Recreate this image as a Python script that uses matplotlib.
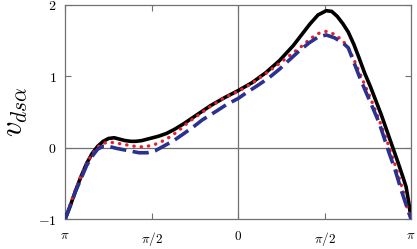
import numpy as np
import matplotlib.pyplot as plt

plt.rcParams["mathtext.fontset"] = "cm"
plt.rcParams["font.family"] = "serif"
plt.rcParams["font.serif"] = ["DejaVu Serif"]

# curva negra (continua)
x_k = [-3.14, -3.05, -2.95, -2.85, -2.75, -2.65, -2.55, -2.45, -2.35, -2.25,
       -2.15, -2.05, -1.95, -1.85, -1.75, -1.6, -1.45, -1.3, -1.15, -1.0,
       -0.75, -0.5, -0.25, 0.0, 0.25, 0.5, 0.75, 1.0, 1.15, 1.3, 1.45, 1.6,
       1.7, 1.8, 1.9, 2.0, 2.1, 2.2, 2.3, 2.4, 2.5, 2.6, 2.7, 2.8, 2.9, 3.0,
       3.05, 3.1, 3.14]
y_k = [-1.00, -0.82, -0.60, -0.40, -0.22, -0.08, 0.02, 0.09, 0.13, 0.14,
       0.12, 0.10, 0.09, 0.09, 0.10, 0.13, 0.16, 0.20, 0.26, 0.33,
       0.46, 0.59, 0.70, 0.80, 0.91, 1.05, 1.22, 1.43, 1.58, 1.73, 1.86, 1.92,
       1.91, 1.84, 1.74, 1.62, 1.45, 1.25, 1.04, 0.86, 0.66, 0.46, 0.24, 0.02,
       -0.20, -0.43, -0.55, -0.78, -1.00]

# curva roja (punteada)
x_r = [-3.14, -3.05, -2.95, -2.85, -2.75, -2.65, -2.55, -2.45, -2.35, -2.25,
       -2.1, -1.95, -1.8, -1.65, -1.5, -1.35, -1.2, -1.05, -0.9, -0.7, -0.5,
       -0.25, 0.0, 0.25, 0.5, 0.75, 1.0, 1.15, 1.3, 1.45, 1.6, 1.75, 1.9, 2.0,
       2.1, 2.2, 2.3, 2.4, 2.5, 2.6, 2.7, 2.8, 2.9, 3.0, 3.07, 3.14]
y_r = [-1.00, -0.80, -0.58, -0.39, -0.22, -0.09, 0.01, 0.06, 0.08, 0.07,
       0.05, 0.03, 0.01, 0.02, 0.05, 0.10, 0.17, 0.26, 0.36, 0.47, 0.58,
       0.70, 0.79, 0.90, 1.04, 1.18, 1.33, 1.42, 1.52, 1.60, 1.63, 1.59, 1.50,
       1.40, 1.24, 1.06, 0.88, 0.70, 0.51, 0.31, 0.10, -0.12, -0.36, -0.62,
       -0.85, -1.00]

# curva azul (discontinua)
x_b = [-3.14, -3.05, -2.95, -2.85, -2.75, -2.65, -2.55, -2.45, -2.35, -2.2,
       -2.0, -1.8, -1.65, -1.5, -1.31, -1.15, -1.0, -0.8, -0.65, -0.4, -0.22,
       0.0, 0.15, 0.35, 0.56, 0.75, 0.93, 1.1, 1.29, 1.45, 1.6, 1.75, 1.9, 2.0,
       2.1, 2.2, 2.32, 2.45, 2.56, 2.65, 2.74, 2.85, 2.96, 3.05, 3.14]
y_b = [-1.00, -0.82, -0.61, -0.43, -0.25, -0.12, -0.02, 0.02, 0.02, -0.01,
       -0.04, -0.07, -0.07, -0.04, 0.04, 0.11, 0.19, 0.30, 0.39, 0.51, 0.60,
       0.69, 0.77, 0.87, 0.98, 1.10, 1.23, 1.35, 1.47, 1.55, 1.58, 1.54, 1.47,
       1.40, 1.20, 1.00, 0.78, 0.55, 0.35, 0.14, -0.07, -0.31, -0.59, -0.80,
       -1.00]

xticks = [-np.pi, -np.pi / 2, 0, np.pi / 2, np.pi]
xtick_labels = [r"$\pi$", r"$\pi/2$", r"$0$", r"$\pi/2$", r"$\pi$"]
yticks = [-1, 0, 1, 2]
ytick_labels = [r"$-1$", r"$0$", r"$1$", r"$2$"]

fig = plt.figure(figsize=(4.17, 2.49), dpi=100)
ax = fig.add_axes([0.156, 0.120, 0.830, 0.860])

gris = "#707070"
ax.axhline(0, color=gris, lw=0.9, zorder=1)
ax.axvline(0, color=gris, lw=0.9, zorder=1)

ax.plot(x_k, y_k, color="black", lw=2.6, solid_joinstyle="round", zorder=3)
ax.plot(x_r, y_r, color="#e8202a", lw=2.4, linestyle=(0, (0.1, 2.1)),
        dash_capstyle="round", zorder=4)
ax.plot(x_b, y_b, color="#2b3190", lw=2.6, linestyle=(0, (4.5, 1.8)), zorder=5)

ax.set_xlim(-np.pi, np.pi)
ax.set_ylim(-1, 2)
ax.set_xticks(xticks)
ax.set_xticklabels(xtick_labels, fontsize=9.5)
ax.set_yticks(yticks)
ax.set_yticklabels(ytick_labels, fontsize=10)
ax.tick_params(direction="in", top=True, right=True, length=4, width=0.8,
               color=gris)
ax.tick_params(axis="x", pad=7.5)
ax.tick_params(axis="y", pad=6)
for s in ax.spines.values():
    s.set_color(gris)
    s.set_linewidth(0.9)

ax.set_ylabel(r"$v_{ds\alpha}$", fontsize=22, labelpad=6)

fig.savefig("out.png", dpi=100, facecolor="white")
